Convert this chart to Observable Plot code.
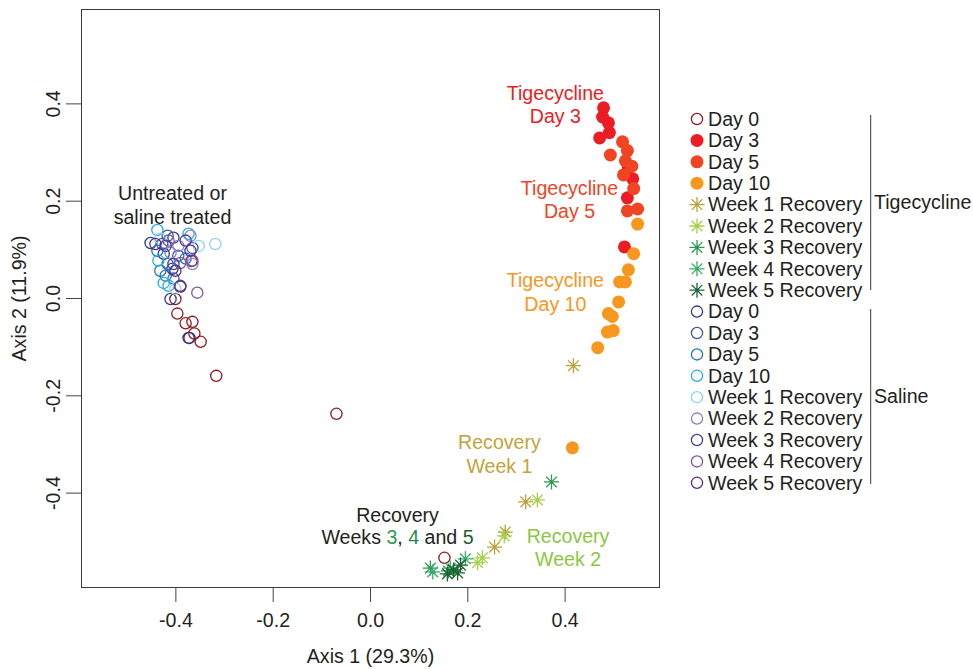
<!DOCTYPE html>
<html><head><meta charset="utf-8">
<script src="https://cdn.jsdelivr.net/npm/d3@7"></script>
<script src="https://cdn.jsdelivr.net/npm/@observablehq/plot@0.6"></script>
<style>html,body{margin:0;padding:0;background:#fff;} #chart svg{display:block;}</style>
</head><body><div id="chart"></div>
<script>
// ---------- data ----------
const xTicks = [-0.4, -0.2, 0, 0.2, 0.4];
const yTicks = [-0.4, -0.2, 0, 0.2, 0.4];
const axisTitles = ["Axis 1 (29.3%)", "Axis 2 (11.9%)"];
const treatments = ["Tigecycline", "Saline"];
const timepoints = ["Day 0", "Day 3", "Day 5", "Day 10", "Week 1 Recovery", "Week 2 Recovery", "Week 3 Recovery", "Week 4 Recovery", "Week 5 Recovery"];

// Tigecycline groups: [Axis1, Axis2]
const tigDay0 = [[-0.368,0.077],[-0.391,0.024],[-0.401,-0.001],[-0.397,-0.031],[-0.380,-0.051],[-0.366,-0.048],[-0.362,-0.072],[-0.372,-0.081],[-0.349,-0.089],[-0.317,-0.159],[-0.070,-0.237],[0.152,-0.533]];
const tigDay3 = [[0.479,0.392],[0.477,0.373],[0.489,0.361],[0.471,0.330],[0.491,0.341],[0.530,0.269],[0.539,0.246],[0.528,0.207],[0.522,0.106]];
const tigDay5 = [[0.518,0.322],[0.528,0.304],[0.493,0.295],[0.524,0.283],[0.537,0.272],[0.520,0.254],[0.541,0.226],[0.549,0.184],[0.528,0.180]];
const tigDay10 = [[0.549,0.153],[0.541,0.092],[0.530,0.059],[0.512,0.034],[0.524,0.034],[0.510,-0.007],[0.489,-0.031],[0.497,-0.037],[0.487,-0.069],[0.499,-0.066],[0.467,-0.101],[0.415,-0.307]];
const tigWeek1 = [[0.417,-0.138],[0.319,-0.418],[0.277,-0.480],[0.255,-0.511]];
const tigWeek2 = [[0.343,-0.414],[0.275,-0.488],[0.230,-0.533],[0.220,-0.543]];
const tigWeek3 = [[0.372,-0.377],[0.123,-0.554],[0.160,-0.560]];
const tigWeek4 = [[0.164,-0.554],[0.195,-0.535],[0.128,-0.562]];
const tigWeek5 = [[0.171,-0.558],[0.158,-0.566],[0.179,-0.564],[0.185,-0.548]];

// Saline groups
const salDay0 = [[-0.452,0.114],[-0.405,0.125],[-0.407,0.061],[-0.411,-0.001],[-0.374,-0.081],[-0.425,0.092]];
const salDay3 = [[-0.417,0.129],[-0.428,0.112],[-0.395,0.088],[-0.405,0.041],[-0.366,0.104]];
const salDay5 = [[-0.438,0.098],[-0.417,0.071],[-0.421,0.047],[-0.380,0.082],[-0.432,0.057]];
const salDay10 = [[-0.438,0.141],[-0.436,0.078],[-0.425,0.032],[-0.415,0.026],[-0.374,0.133]];
const salWeek1 = [[-0.319,0.112],[-0.353,0.108],[-0.401,0.020],[-0.432,0.123]];
const salWeek2 = [[-0.370,0.129],[-0.411,0.094],[-0.366,0.071],[-0.395,0.108]];
const salWeek3 = [[-0.405,0.071],[-0.391,0.026],[-0.421,0.108],[-0.380,0.119]];
const salWeek4 = [[-0.356,0.012],[-0.366,0.078],[-0.391,0.073],[-0.415,0.119]];
const salWeek5 = [[-0.370,0.098],[-0.401,0.057],[-0.442,0.112]];

// ---------- styles ----------
const tigColors = ["#8e1b22", "#ec1c24", "#f04423", "#f7971d", "#bba23a", "#a3cf4a", "#2f9a4f", "#3aab6c", "#1c6533"];
const tigKinds = ["open", "filled", "filled", "filled", "star", "star", "star", "star", "star"];
const salColors = ["#2b3a86", "#3f56a6", "#1c74bb", "#2aace2", "#8fd3f4", "#8a80c4", "#4a3d98", "#7b55a5", "#5c2c84"];
const tigSeries = [tigDay0, tigDay3, tigDay5, tigDay10, tigWeek1, tigWeek2, tigWeek3, tigWeek4, tigWeek5];
const salSeries = [salDay0, salDay3, salDay5, salDay10, salWeek1, salWeek2, salWeek3, salWeek4, salWeek5];

// annotations
const annText = ["Untreated or\nsaline treated", "Tigecycline\nDay 3", "Tigecycline\nDay 5", "Tigecycline\nDay 10", "Recovery\nWeek 1", "Recovery\nWeek 2", "Recovery", "Weeks 3, 4 and 5"];
const annX = [-0.407, 0.380, 0.409, 0.380, 0.265, 0.406, 0.0555, 0.0555];
const annY = [0.1936, 0.400, 0.205, 0.0148, -0.319, -0.511, -0.4446, -0.4919];
const annColor = ["#231f20", "#ec1c24", "#f04423", "#f7971d", "#c1a43a", "#8dc63f", "#231f20", "#231f20"];

// ---------- build ----------
const asterisk8 = {
  draw(ctx, size) {
    const r = Math.sqrt(size / Math.PI), d = r * Math.SQRT1_2;
    ctx.moveTo(-r, 0); ctx.lineTo(r, 0);
    ctx.moveTo(0, -r); ctx.lineTo(0, r);
    ctx.moveTo(-d, -d); ctx.lineTo(d, d);
    ctx.moveTo(-d, d); ctx.lineTo(d, -d);
  }
};

const groups = [];
tigSeries.forEach((pts, i) => groups.push({treatment: treatments[0], name: timepoints[i], pts, color: tigColors[i], kind: tigKinds[i]}));
salSeries.forEach((pts, i) => groups.push({treatment: treatments[1], name: timepoints[i], pts, color: salColors[i], kind: "open"}));

function dotMark(g) {
  const data = g.pts.map(([x, y]) => ({x, y}));
  if (g.kind === "filled") return Plot.dot(data, {x: "x", y: "y", r: 6.5, fill: g.color, stroke: "none"});
  if (g.kind === "star") return Plot.dot(data, {x: "x", y: "y", r: 7.5, symbol: asterisk8, stroke: g.color, strokeWidth: 1.3, fill: "none"});
  return Plot.dot(data, {x: "x", y: "y", r: 5.6, stroke: g.color, strokeWidth: 1.3, fill: "none"});
}

const FONT = "'Liberation Sans', Arial, Helvetica, sans-serif";
const FS = 19.6;
const ann = annText.map((t, i) => ({t, x: annX[i], y: annY[i], c: annColor[i], i}));

const chart = Plot.plot({
  width: 973, height: 669,
  marginLeft: 81, marginRight: 314, marginTop: 9, marginBottom: 82,
  x: {domain: [-0.594, 0.594]},
  y: {domain: [-0.594, 0.594]},
  style: {fontFamily: FONT, fontSize: FS + "px", color: "#231f20", background: "white"},
  marks: [
    Plot.frame({stroke: "#3a3a3a", strokeWidth: 1}),
    Plot.axisX(xTicks, {tickSize: 15, tickPadding: 11, tickFormat: d => d.toFixed(1), label: null, fontSize: FS, stroke: "#444", fill: "#231f20"}),
    Plot.axisY(yTicks, {tickSize: 15, tickFormat: () => "", label: null, stroke: "#444"}),
    Plot.text(yTicks, {y: d => d, text: d => d.toFixed(1), frameAnchor: "left", dx: -28, rotate: -90, textAnchor: "middle", lineAnchor: "middle", fontSize: FS, fill: "#231f20"}),
    Plot.text([axisTitles[0]], {frameAnchor: "bottom", dy: 69, lineAnchor: "middle", fontSize: FS, fill: "#231f20"}),
    Plot.text([axisTitles[1]], {frameAnchor: "left", dx: -62, rotate: -90, lineAnchor: "middle", textAnchor: "middle", fontSize: FS, fill: "#231f20"}),
    ...groups.map(dotMark),
    Plot.text(ann.filter(d => d.i < 7), {x: "x", y: "y", text: "t", fill: "c", fontSize: FS, lineHeight: 1.2, lineAnchor: "middle", textAnchor: "middle"}),
    Plot.text(ann.filter(d => d.i === 7), {x: "x", y: "y", text: "t", fill: "c", fontSize: FS, lineAnchor: "middle", textAnchor: "middle", className: "wk345"})
  ]
});
document.getElementById("chart").appendChild(chart);

// colored digits in "Weeks 3, 4 and 5"
const wkColors = ["#2f9a4f", "#1f8a4c", "#1c5e30"];
d3.select(chart).selectAll(".wk345 text").each(function() {
  const t = d3.select(this);
  t.text("");
  const parts = [["Weeks ", null], ["3", wkColors[0]], [", ", null], ["4", wkColors[1]], [" and ", null], ["5", wkColors[2]]];
  parts.forEach(([s, c]) => { const ts = t.append("tspan").text(s); if (c) ts.attr("fill", c); });
});

// legend
const svg = d3.select(chart);
const lg = svg.append("g").attr("font-family", FONT).attr("font-size", FS).attr("fill", "#231f20").attr("text-anchor", "start");
groups.forEach((g, i) => {
  const cy = 119 + i * 21.4, cx = 697;
  if (g.kind === "filled") lg.append("circle").attr("cx", cx).attr("cy", cy).attr("r", 6.5).attr("fill", g.color);
  else if (g.kind === "star") {
    const p = d3.path(); asterisk8.draw(p, Math.PI * 7.5 * 7.5);
    lg.append("path").attr("d", p.toString()).attr("transform", `translate(${cx},${cy})`).attr("stroke", g.color).attr("stroke-width", 1.3).attr("fill", "none");
  } else lg.append("circle").attr("cx", cx).attr("cy", cy).attr("r", 5.6).attr("fill", "none").attr("stroke", g.color).attr("stroke-width", 1.3);
  lg.append("text").attr("x", 708).attr("y", cy).attr("dy", "0.35em").attr("text-anchor", "start").text(g.name);
});
// brackets
[[treatments[0], 115, 290, 201.7], [treatments[1], 309, 484, 396]].forEach(([label, y0, y1, ty]) => {
  lg.append("line").attr("x1", 870.7).attr("x2", 870.7).attr("y1", y0).attr("y2", y1).attr("stroke", "#3a3a3a").attr("stroke-width", 1);
  lg.append("text").attr("x", 874).attr("y", ty).attr("dy", "0.35em").attr("text-anchor", "start").text(label);
});
</script>
</body></html>
